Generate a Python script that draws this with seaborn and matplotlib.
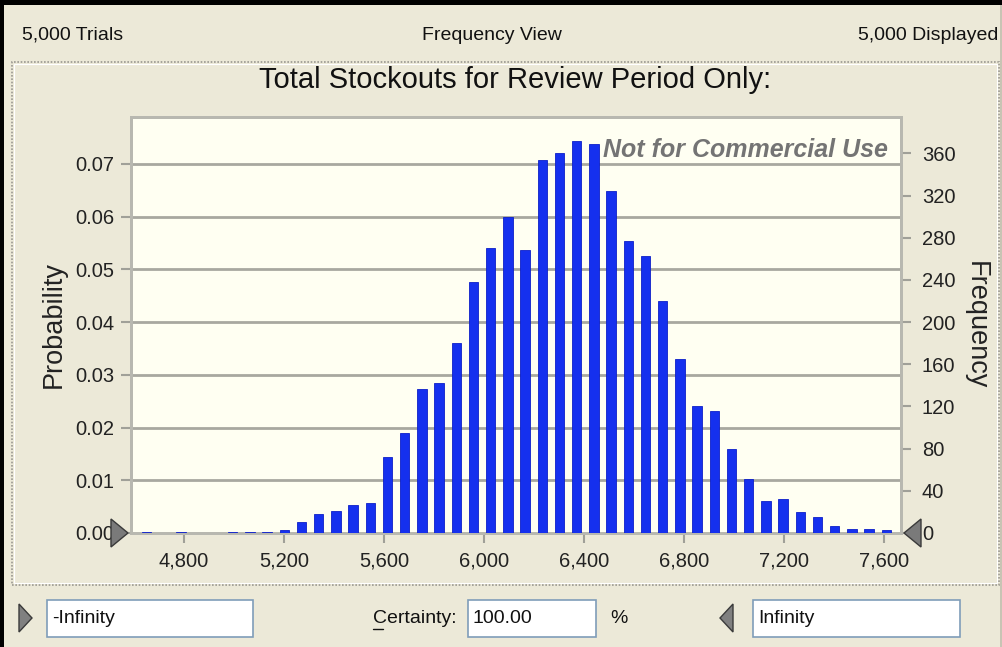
import matplotlib
matplotlib.use("Agg")
import matplotlib.pyplot as plt
import seaborn as sns
import pandas as pd
from matplotlib.patches import Rectangle, Polygon
from matplotlib.lines import Line2D

# ---------------- data ----------------
trials = 5000
bin_centers = [4651, 4720, 4788, 4857, 4926, 4995, 5064, 5132, 5201, 5270,
               5339, 5408, 5476, 5545, 5614, 5683, 5752, 5820, 5889, 5958,
               6027, 6096, 6164, 6233, 6302, 6371, 6440, 6508, 6577, 6646,
               6715, 6784, 6852, 6921, 6990, 7059, 7128, 7196, 7265, 7334,
               7403, 7472, 7540, 7609]
frequencies = [1, 0, 1, 0, 0, 1, 1, 1, 3, 10,
               18, 21, 27, 28, 72, 95, 137, 142, 180, 238,
               270, 300, 268, 354, 360, 372, 369, 324, 277, 263,
               220, 165, 120, 116, 80, 51, 30, 32, 20, 15,
               7, 4, 4, 3]
x_ticks = [4800, 5200, 5600, 6000, 6400, 6800, 7200, 7600]
prob_ticks = [0.00, 0.01, 0.02, 0.03, 0.04, 0.05, 0.06, 0.07]
freq_ticks = [0, 40, 80, 120, 160, 200, 240, 280, 320, 360]

title = "Total Stockouts for Review Period Only:"
header_left = "5,000 Trials"
header_mid = "Frequency View"
header_right = "5,000 Displayed"
watermark = "Not for Commercial Use"
lower_value = "-Infinity"
upper_value = "Infinity"
certainty_label = "Certainty:"
certainty_value = "100.00"

# ---------------- style ----------------
W, H = 1003, 647
BG = "#ECE9D8"
PLOT_BG = "#FFFFF2"
BAR = "#1530EE"
GRID = "#A8A8A0"
FONT = ["Liberation Sans", "DejaVu Sans"]
FS = 14

sns.set_theme(style="white")
plt.rcParams["font.family"] = FONT
plt.rcParams["text.color"] = "#111111"

fig = plt.figure(figsize=(W / 100, H / 100), dpi=100, facecolor=BG)


def fx(x):
    return x / W


def fy(y):
    return 1 - y / H


# axes area in pixels
L, R, T, B = 131, 901, 117, 533
ax = fig.add_axes([fx(L), fy(B), (R - L) / W, (B - T) / H])
ax.set_facecolor(PLOT_BG)
ax2 = ax.twinx()

fmax = 394.5
xlim = (4588, 7668)

df = pd.DataFrame({"value": bin_centers, "freq": frequencies})
sns.barplot(data=df, x="value", y="freq", native_scale=True, width=0.54,
            color=BAR, saturation=1, edgecolor="#0D1FC8", linewidth=0.6,
            ax=ax2, zorder=3)

ax2.set_xlim(*xlim)
ax.set_xlim(*xlim)
ax2.set_ylim(0, fmax)
ax.set_ylim(0, fmax / trials)

# left: probability
ax.set_yticks(prob_ticks)
ax.set_yticklabels([f"{v:.2f}" for v in prob_ticks])
for v in prob_ticks[1:]:
    ax.axhline(v, color=GRID, lw=2.0, zorder=1)
ax.grid(False)
ax2.grid(False)

# right: frequency
ax2.set_yticks(freq_ticks)
ax2.set_yticklabels([str(v) for v in freq_ticks])

ax.set_xticks(x_ticks)
ax.set_xticklabels([f"{v:,}" for v in x_ticks])
ax2.set_xlabel("")
ax2.set_ylabel("")

tick_kw = dict(colors="#A0A098", labelcolor="#222222", labelsize=14.5,
               width=1.5, length=7, direction="out")
ax.tick_params(axis="y", which="both", left=True, pad=5, **tick_kw)
ax.tick_params(axis="x", which="both", bottom=True, pad=6, **tick_kw)
ax2.tick_params(axis="y", which="both", right=True, pad=8, **tick_kw)

for a in (ax, ax2):
    for s in a.spines.values():
        s.set_visible(True)
        s.set_color("#B8B8B0")
        s.set_linewidth(2.0)

ax.set_ylabel("Probability", fontsize=19.5, color="#222222", labelpad=6)
ax2.set_ylabel("Frequency", fontsize=19.5, color="#222222", rotation=270,
               labelpad=24)

ax2.text(0.983, 0.921, watermark, transform=ax2.transAxes, ha="right",
         va="center", fontsize=18, style="italic", fontweight="bold",
         color="#747474", zorder=5)

# ---------------- figure decorations ----------------
def frect(x0, y0, x1, y1, **kw):
    fig.patches.append(Rectangle((fx(x0), fy(y1)), (x1 - x0) / W,
                                 (y1 - y0) / H, transform=fig.transFigure,
                                 figure=fig, **kw))


def ftri(points, **kw):
    pts = [(fx(x), fy(y)) for x, y in points]
    fig.patches.append(Polygon(pts, closed=True, transform=fig.transFigure,
                               figure=fig, **kw))


# outer black border (top + left)
frect(0, 0, W, 5, facecolor="#000000", edgecolor="none")
frect(0, 0, 4, H, facecolor="#000000", edgecolor="none")
frect(W - 3, 5, W, H, facecolor="#C8C4B4", edgecolor="none")

# inner dotted frame
frect(12, 62, 999, 585, facecolor="none", edgecolor="#9A9890",
      linewidth=1.2, linestyle=(0, (1, 1)))
frect(14, 64, 997, 583, facecolor="none", edgecolor="#FFFFFF",
      linewidth=0.8)

# header texts
fig.text(fx(22), fy(35), header_left, ha="left", va="center", fontsize=FS)
fig.text(fx(492), fy(35), header_mid, ha="center", va="center", fontsize=FS)
fig.text(fx(998), fy(35), header_right, ha="right", va="center", fontsize=FS)
fig.text(fx(515), fy(80), title, ha="center", va="center", fontsize=21)

# plot grabbers
ftri([(111, 519), (128, 533), (111, 547)], facecolor="#7A7A7A",
     edgecolor="#3A3A3A", linewidth=1, zorder=10)
ftri([(921, 519), (904, 533), (921, 547)], facecolor="#7A7A7A",
     edgecolor="#3A3A3A", linewidth=1, zorder=10)

# bottom controls
ftri([(19, 604), (32, 618), (19, 632)], facecolor="#808080",
     edgecolor="#3A3A3A", linewidth=1)
ftri([(733, 604), (720, 618), (733, 632)], facecolor="#808080",
     edgecolor="#3A3A3A", linewidth=1)

for (x0, x1, txt) in [(47, 253, lower_value), (468, 596, certainty_value),
                      (753, 960, upper_value)]:
    frect(x0, 600, x1, 637, facecolor="#FFFFFF", edgecolor="#7F9DB9",
          linewidth=1.2)
    fig.text(fx(x0 + 5), fy(618.5), txt, ha="left", va="center",
             fontsize=FS)

fig.text(fx(373), fy(618.5), certainty_label, ha="left", va="center",
         fontsize=FS)
fig.add_artist(Line2D([fx(373), fx(383)], [fy(628.5), fy(628.5)],
                      transform=fig.transFigure, color="#111111", lw=1))
fig.text(fx(610), fy(618.5), "%", ha="left", va="center", fontsize=FS)

fig.savefig("out.png", dpi=100, facecolor=BG)
